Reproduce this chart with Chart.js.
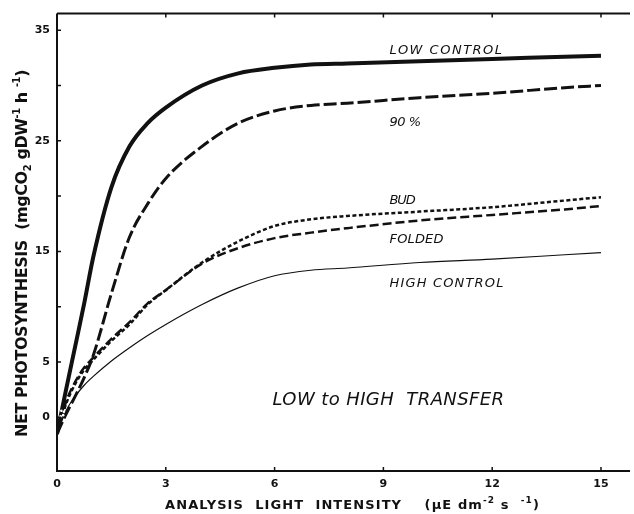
<!DOCTYPE html>
<html lang="en">
<head>
<meta charset="UTF-8">
<title>Net Photosynthesis - Low to High Transfer</title>
<script src="https://cdn.jsdelivr.net/npm/chart.js@4"></script>
<style>
  html, body { margin: 0; padding: 0; background: #fff; }
  .chart-box { position: relative; width: 634px; height: 514px; }
</style>
</head>
<body>
<div class="chart-box"><canvas id="photoChart"></canvas></div>
<script>
// values
const lightIntensity = [0, 0.25, 0.5, 0.75, 1, 1.5, 2, 2.5, 3, 4, 5, 6, 7, 8, 10, 12, 14, 15];
const lowControl  = [-1.5, 2.5, 6.4, 10.3, 14.5, 20.8, 24.5, 26.6, 28.0, 30.0, 31.1, 31.6, 31.9, 32.0, 32.2, 32.4, 32.6, 32.7];
const ninetyPct   = [-1.5, 0.3, 1.9, 3.6, 5.6, 11.2, 16.3, 19.3, 21.6, 24.5, 26.6, 27.7, 28.2, 28.4, 28.9, 29.3, 29.8, 30.0];
const bud         = [-1.5, 1.2, 3.0, 4.3, 5.2, 6.9, 8.4, 10.2, 11.5, 14.0, 15.9, 17.3, 17.9, 18.2, 18.6, 19.0, 19.6, 19.9];
const folded      = [-1.5, 1.4, 3.2, 4.5, 5.4, 7.1, 8.6, 10.3, 11.5, 13.9, 15.3, 16.2, 16.7, 17.1, 17.8, 18.3, 18.8, 19.1];
const highControl = [-1.5, 0.6, 1.9, 2.9, 3.7, 5.1, 6.3, 7.4, 8.4, 10.2, 11.7, 12.8, 13.3, 13.5, 14.0, 14.3, 14.7, 14.9];

// small open circles near the origin
const observedX = [0.12, 0.19, 0.10, 0.17];
const observedY = [0.6, 0.5, 0.1, 0.2];

const xTickValues = [0, 3, 6, 9, 12, 15];
const yTickLabels = [0, 5, 15, 25, 35];
const yTickMarks  = [0, 5, 10, 15, 20, 25, 30, 35];

const seriesLabels = ['LOW CONTROL', '90 %', 'BUD', 'FOLDED', 'HIGH CONTROL'];

const INK = '#111';

function pts(ys) {
  return lightIntensity.map((x, i) => ({ x: x, y: ys[i] }));
}

function lineSet(label, ys, width, dash) {
  return {
    label: label,
    data: pts(ys),
    borderColor: INK,
    borderWidth: width,
    borderDash: dash,
    borderCapStyle: 'butt',
    pointRadius: 0,
    fill: false,
    cubicInterpolationMode: 'monotone',
    order: 1
  };
}

// draws text pieces (with sub/superscripts) stretched to a target length
function drawFitted(ctx, parts, x, y, target) {
  let natural = 0, chars = 0;
  ctx.letterSpacing = '0px';
  parts.forEach(p => {
    ctx.font = p.font;
    p.w = ctx.measureText(p.text).width;
    natural += p.w;
    chars += p.text.length;
  });
  const sp = (target - natural) / chars;
  let cx = x;
  parts.forEach(p => {
    ctx.font = p.font;
    ctx.letterSpacing = sp + 'px';
    ctx.fillText(p.text, cx, y + (p.dy || 0));
    cx += p.w + sp * p.text.length;
  });
  ctx.letterSpacing = '0px';
}

const framePlugin = {
  id: 'frame',
  afterDatasetsDraw(chart) {
    const ctx = chart.ctx;
    const a = chart.chartArea;
    const xs = chart.scales.x, ys = chart.scales.y;
    ctx.save();
    ctx.strokeStyle = INK;
    ctx.fillStyle = INK;

    // axes + top border
    ctx.lineWidth = 2;
    ctx.beginPath();
    ctx.moveTo(a.left, a.top);
    ctx.lineTo(a.left, a.bottom);
    ctx.lineTo(a.right, a.bottom);
    ctx.moveTo(a.left, a.top);
    ctx.lineTo(a.right, a.top);
    ctx.stroke();

    // inward tick marks
    ctx.lineWidth = 1.5;
    ctx.beginPath();
    yTickMarks.forEach(v => {
      const py = ys.getPixelForValue(v);
      ctx.moveTo(a.left, py);
      ctx.lineTo(a.left + 4, py);
    });
    xTickValues.forEach(v => {
      if (v === 0) return;
      const px = xs.getPixelForValue(v);
      ctx.moveTo(px, a.bottom);
      ctx.lineTo(px, a.bottom - 4);
      ctx.moveTo(px, a.top);
      ctx.lineTo(px, a.top + 4);
    });
    ctx.stroke();

    ctx.textBaseline = 'alphabetic';
    ctx.textAlign = 'left';

    // y axis title (rotated)
    ctx.save();
    ctx.translate(27, 437);
    ctx.rotate(-Math.PI / 2);
    const yb = 'bold 16px "DejaVu Sans"', ys2 = 'bold 10px "DejaVu Sans"';
    drawFitted(ctx, [
      { text: 'NET PHOTOSYNTHESIS  (mgCO', font: yb },
      { text: '2', font: ys2, dy: 4 },
      { text: ' gDW', font: yb },
      { text: '-1', font: ys2, dy: -7 },
      { text: ' h ', font: yb },
      { text: '-1', font: ys2, dy: -7 },
      { text: ')', font: yb }
    ], 0, 0, 367);
    ctx.restore();

    // x axis title
    const xb = 'bold 13px "DejaVu Sans"', xsup = 'bold 9px "DejaVu Sans"';
    drawFitted(ctx, [
      { text: 'ANALYSIS  LIGHT  INTENSITY    (\u00b5E dm', font: xb },
      { text: '-2', font: xsup, dy: -6 },
      { text: ' s  ', font: xb },
      { text: '-1', font: xsup, dy: -6 },
      { text: ')', font: xb }
    ], 165, 509, 375);

    // series labels
    const labelFont = 'italic 13px "DejaVu Sans"';
    const labelY = [33.3, 26.8, 19.75, 16.25, 12.2];
    const labelW = [114, 31, 25, 54, 115];
    const lx = xs.getPixelForValue(9.17);
    seriesLabels.forEach((t, i) => {
      drawFitted(ctx, [{ text: t, font: labelFont }], lx, ys.getPixelForValue(labelY[i]) + 5, labelW[i]);
    });

    // panel caption
    drawFitted(ctx, [{ text: 'LOW to HIGH  TRANSFER', font: 'italic 18px "DejaVu Sans"' }],
      xs.getPixelForValue(9.14) - 116, ys.getPixelForValue(1.66) + 6.5, 232);

    ctx.restore();
  }
};

const tickFont = { family: 'DejaVu Sans', size: 11, weight: 'bold' };

new Chart(document.getElementById('photoChart'), {
  type: 'line',
  data: {
    datasets: [
      {
        label: 'observed',
        data: observedX.map((x, i) => ({ x: x, y: observedY[i] })),
        showLine: false,
        pointRadius: 1.3,
        pointBorderWidth: 0,
        pointBackgroundColor: '#fff',
        order: 0
      },
      lineSet('LOW CONTROL', lowControl, 4, []),
      lineSet('90 %', ninetyPct, 3, [13, 4]),
      lineSet('BUD', bud, 2.5, [4, 2.5]),
      lineSet('FOLDED', folded, 2.5, [9, 4]),
      lineSet('HIGH CONTROL', highControl, 1.2, [])
    ]
  },
  options: {
    responsive: true,
    maintainAspectRatio: false,
    animation: false,
    layout: { padding: { top: 10, right: 0, bottom: 0, left: 0 } },
    plugins: {
      legend: { display: false },
      tooltip: { enabled: false }
    },
    scales: {
      x: {
        type: 'linear',
        min: 0,
        max: 15.8,
        afterFit: s => { s.height = 43; },
        grid: { display: false, drawTicks: false },
        border: { display: false },
        ticks: {
          stepSize: 3,
          includeBounds: false,
          padding: 7,
          maxRotation: 0,
          autoSkip: false,
          color: INK,
          font: tickFont,
          callback: v => xTickValues.includes(v) ? v : ''
        }
      },
      y: {
        type: 'linear',
        min: -4.85,
        max: 36.5,
        afterFit: s => { s.width = 57; },
        grid: { display: false, drawTicks: false },
        border: { display: false },
        ticks: {
          stepSize: 5,
          includeBounds: false,
          padding: 7,
          autoSkip: false,
          color: INK,
          font: tickFont,
          callback: v => yTickLabels.includes(v) ? v : ''
        }
      }
    }
  },
  plugins: [framePlugin]
});
</script>
</body>
</html>
